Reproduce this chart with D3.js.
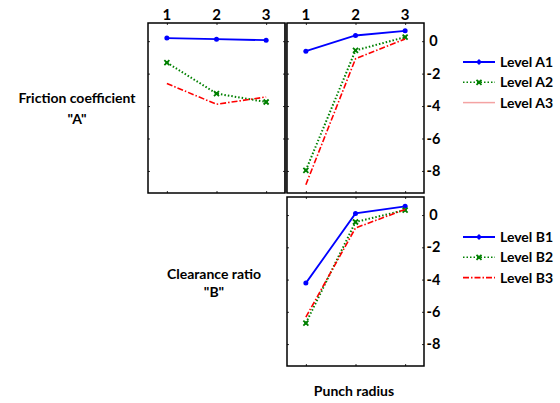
<!DOCTYPE html>
<html>
<head>
<meta charset="utf-8">
<script src="https://cdn.jsdelivr.net/npm/d3@7"></script>
<style>
  html, body { margin: 0; padding: 0; background: #fff; }
  svg { display: block; }
  text { font-family: Lato, "Liberation Sans", Arial, sans-serif; font-weight: bold; fill: #000; }
</style>
</head>
<body>
<svg id="chart" width="560" height="403"></svg>
<script>
// Factor levels along each x axis
const levels = [1, 2, 3];
const yTicks = [0, -2, -4, -6, -8];

// Series names
const seriesA = ["Level A1", "Level A2", "Level A3"];
const seriesB = ["Level B1", "Level B2", "Level B3"];

// Friction coefficient levels against clearance ratio levels
const clearanceA1 = [0.19, 0.12, 0.06];
const clearanceA2 = [-1.32, -3.23, -3.75];
const clearanceA3 = [-2.61, -3.89, -3.44];

// Friction coefficient levels against punch radius levels
const radiusA1 = [-0.62, 0.35, 0.64];
const radiusA2 = [-7.96, -0.57, 0.25];
const radiusA3 = [-8.85, -1.09, 0.14];

// Clearance ratio levels against punch radius levels
const radiusB1 = [-4.22, 0.10, 0.54];
const radiusB2 = [-6.70, -0.43, 0.31];
const radiusB3 = [-6.33, -0.80, 0.35];

const svg = d3.select("#chart");

const styles = [
  { color: "#0000ff", dash: null, width: 1.8, marker: "circle" },
  { color: "#008000", dash: "1.5,2", width: 2, marker: "x" },
  { color: "#ff0000", dash: "6,2,1.5,2", width: 1.6, marker: null }
];

const panels = [
  { x0: 148, x1: 285, y0: 23, y1: 193, series: [clearanceA1, clearanceA2, clearanceA3], topLabels: true, rightLabels: false },
  { x0: 287, x1: 424, y0: 23, y1: 193, series: [radiusA1, radiusA2, radiusA3], topLabels: true, rightLabels: true },
  { x0: 287, x1: 424, y0: 197, y1: 366, series: [radiusB1, radiusB2, radiusB3], topLabels: false, rightLabels: true }
];

// divider between the two upper panels
svg.append("rect")
  .attr("x", 284).attr("y", 23).attr("width", 3).attr("height", 170)
  .attr("fill", "#9a9a9a");

function drawMarker(g, type, cx, cy, color) {
  if (type === "circle") {
    g.append("circle").attr("cx", cx).attr("cy", cy).attr("r", 2.5).attr("fill", color);
  } else if (type === "x") {
    const s = 2.5;
    g.append("path")
      .attr("d", `M${cx - s},${cy - s}L${cx + s},${cy + s}M${cx - s},${cy + s}L${cx + s},${cy - s}`)
      .attr("stroke", color).attr("stroke-width", 1.8).attr("fill", "none");
    g.append("rect").attr("x", cx - 1.5).attr("y", cy - 1.5).attr("width", 3).attr("height", 3).attr("fill", color);
  } else if (type === "diamond") {
    const s = 3;
    g.append("path")
      .attr("d", `M${cx},${cy - s}L${cx + s},${cy}L${cx},${cy + s}L${cx - s},${cy}Z`)
      .attr("fill", color);
  }
}

panels.forEach(p => {
  const x = d3.scaleLinear().domain([0.62, 3.38]).range([p.x0, p.x1]);
  const y = d3.scaleLinear().domain([-9.36, 1.12]).range([p.y1, p.y0]);
  const g = svg.append("g");

  // inner tick marks on all four sides
  const tickStyle = sel => {
    sel.select(".domain").remove();
    sel.selectAll(".tick line").attr("stroke", "#333").attr("stroke-width", 1);
    sel.selectAll(".tick text").remove();
  };
  g.append("g").attr("transform", `translate(0,${p.y0})`)
    .call(d3.axisBottom(x).tickValues(levels).tickSize(2)).call(tickStyle);
  g.append("g").attr("transform", `translate(0,${p.y1})`)
    .call(d3.axisTop(x).tickValues(levels).tickSize(2)).call(tickStyle);
  g.append("g").attr("transform", `translate(${p.x0},0)`)
    .call(d3.axisRight(y).tickValues(yTicks).tickSize(2)).call(tickStyle);
  g.append("g").attr("transform", `translate(${p.x1},0)`)
    .call(d3.axisLeft(y).tickValues(yTicks).tickSize(2)).call(tickStyle);

  // right axis labels
  if (p.rightLabels) {
    const ax = g.append("g").attr("transform", `translate(${p.x1},0)`)
      .call(d3.axisRight(y).tickValues(yTicks).tickSize(0)
        .tickFormat(d => d === 0 ? "0" : "-" + Math.abs(d)));
    ax.select(".domain").remove();
    ax.selectAll(".tick line").remove();
    ax.selectAll(".tick text")
      .attr("x", 9.5).attr("text-anchor", "middle")
      .style("font-size", "14.5px").style("font-family", "Lato, 'Liberation Sans', sans-serif")
      .style("font-weight", "bold");
  }

  // top level labels
  if (p.topLabels) {
    g.selectAll(".lvl").data(levels).enter().append("text")
      .attr("x", d => x(d)).attr("y", p.y0 - 3)
      .attr("text-anchor", "middle").style("font-size", "15px")
      .text(d => d);
  }

  // series lines
  p.series.forEach((vals, i) => {
    const st = styles[i];
    const line = d3.line().x((d, j) => x(levels[j])).y(d => y(d));
    g.append("path").datum(vals)
      .attr("d", line)
      .attr("fill", "none")
      .attr("stroke", st.color)
      .attr("stroke-width", st.width)
      .attr("stroke-dasharray", st.dash);
    if (st.marker) {
      vals.forEach((v, j) => drawMarker(g, st.marker, x(levels[j]), y(v), st.color));
    }
  });

  // frame
  g.append("rect")
    .attr("x", p.x0).attr("y", p.y0)
    .attr("width", p.x1 - p.x0).attr("height", p.y1 - p.y0)
    .attr("fill", "none").attr("stroke", "#000").attr("stroke-width", 1.5);
});

// row / column factor labels
const labels = [
  { x: 77, y: 103, t: "Friction coefficient" },
  { x: 77, y: 124, t: "\"A\"" },
  { x: 214, y: 279, t: "Clearance ratio" },
  { x: 214, y: 297, t: "\"B\"" },
  { x: 354, y: 396, t: "Punch radius" }
];
svg.selectAll(".flabel").data(labels).enter().append("text")
  .attr("x", d => d.x).attr("y", d => d.y)
  .attr("text-anchor", "middle").style("font-size", "14px")
  .text(d => d.t);

// legends
const legendStyles = [
  { color: "#0000ff", dash: null, width: 2, marker: "diamond" },
  { color: "#008000", dash: "1.5,2", width: 1.6, marker: "x" },
  { color: "#f4a3a3", dash: null, width: 1.5, marker: null }
];
const legendStylesB = [
  { color: "#0000ff", dash: null, width: 2, marker: "diamond" },
  { color: "#008000", dash: "1.5,2", width: 1.6, marker: "x" },
  { color: "#ff0000", dash: "6,2,1.5,2", width: 1.6, marker: null }
];

function legend(names, sts, top) {
  const lg = svg.append("g");
  names.forEach((n, i) => {
    const yy = top + i * 20.3;
    const st = sts[i];
    lg.append("line").attr("x1", 463).attr("x2", 495).attr("y1", yy).attr("y2", yy)
      .attr("stroke", st.color).attr("stroke-width", st.width).attr("stroke-dasharray", st.dash);
    if (st.marker) drawMarker(lg, st.marker, 479, yy, st.color);
    lg.append("text").attr("x", 500).attr("y", yy + 5).style("font-size", "14px").text(n);
  });
}
legend(seriesA, legendStyles, 62);
legend(seriesB, legendStylesB, 237);
</script>
</body>
</html>
